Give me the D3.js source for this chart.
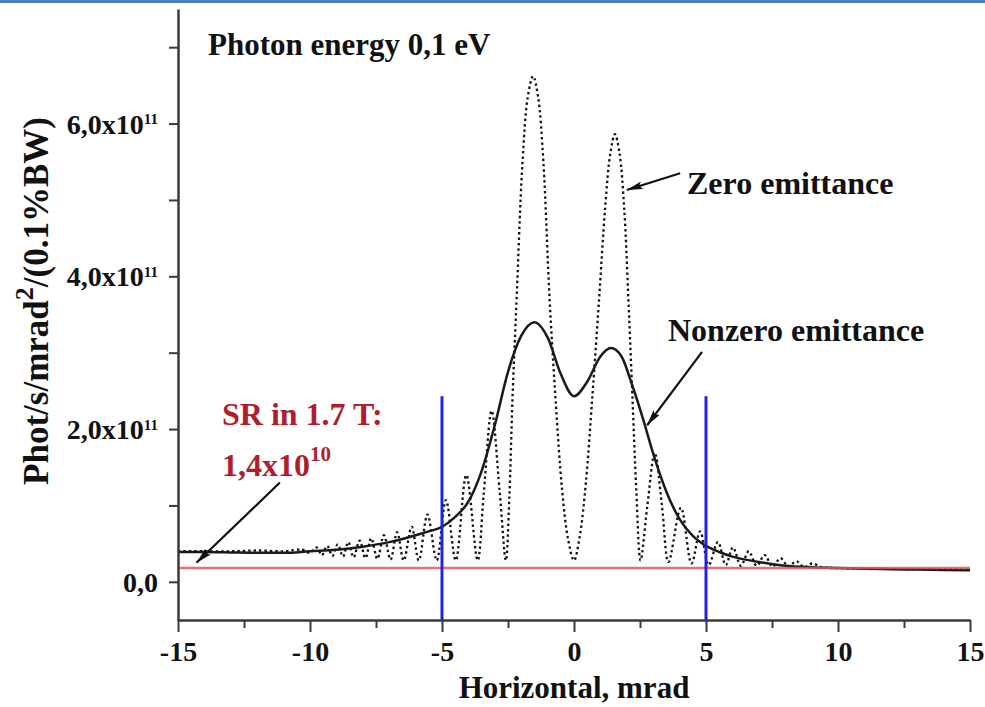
<!DOCTYPE html>
<html><head><meta charset="utf-8">
<script src="https://cdn.jsdelivr.net/npm/d3@7"></script>
<style>
body{margin:0;background:#fff;}
svg{display:block;}
text{font-family:"Liberation Serif","Times New Roman",serif;}
</style>
</head><body>
<svg id="chart" width="985" height="707"></svg>
<script>
// ---------- data (values in units of 1e11 for y, mrad for x) ----------
const xTicks = [-15, -10, -5, 0, 5, 10, 15];
const xMinorTicks = [-12.5, -7.5, -2.5, 2.5, 7.5, 12.5];
const yTicks = [0, 2, 4, 6];
const yMinorTicks = [1, 3, 5, 7];

// Zero emittance (dotted)
const zeroX = [-15,-14,-13,-12,-11,-10.3,-10.0,-9.75,-9.55,-9.35,-9.15,-8.95,-8.75,-8.55,-8.35,-8.12,-7.9,-7.68,-7.45,-7.2,-6.95,-6.7,-6.45,-6.15,-5.88,-5.55,-5.2,-4.85,-4.48,-4.08,-3.65,-3.42,-3.12,-2.82,-2.58,-2.45,-2.33,-2.17,-1.95,-1.75,-1.55,-1.36,-1.16,-0.93,-0.70,-0.45,-0.22,0.0,0.22,0.45,0.70,0.95,1.18,1.38,1.55,1.72,1.90,2.06,2.21,2.36,2.52,2.78,3.06,3.33,3.58,4.05,4.45,4.78,5.1,5.45,5.75,6.02,6.32,6.62,6.92,7.22,7.52,7.82,8.12,8.42,8.72,9.02,9.4,10,12,15];
const zeroY = [0.40,0.40,0.40,0.41,0.40,0.42,0.38,0.45,0.35,0.47,0.34,0.49,0.33,0.52,0.32,0.54,0.31,0.57,0.30,0.61,0.29,0.65,0.28,0.72,0.28,0.88,0.28,1.07,0.28,1.40,0.28,1.15,2.24,1.20,0.28,1.10,2.40,3.74,5.50,6.35,6.62,6.35,5.50,3.74,2.40,1.20,0.55,0.28,0.60,1.30,2.45,3.70,4.90,5.62,5.86,5.62,4.90,3.70,2.45,1.20,0.28,1.00,1.69,1.00,0.26,0.97,0.24,0.66,0.22,0.52,0.22,0.45,0.21,0.40,0.21,0.35,0.20,0.31,0.20,0.27,0.19,0.24,0.19,0.18,0.17,0.16];

// Nonzero emittance (solid)
const nonX = [-15,-14,-13,-12,-11,-10,-9,-8,-7,-6.5,-6,-5.5,-5,-4.5,-4,-3.5,-3,-2.5,-2,-1.5,-1,-0.5,0,0.5,1,1.4,1.8,2.2,2.6,3,3.5,4,4.5,5,5.5,6,7,8,9,10,11,12,13,14,15];
const nonY = [0.39,0.39,0.385,0.38,0.38,0.40,0.42,0.46,0.52,0.56,0.61,0.66,0.72,0.85,1.05,1.45,2.05,2.75,3.22,3.40,3.20,2.72,2.43,2.62,2.95,3.06,2.95,2.58,2.15,1.68,1.18,0.82,0.60,0.47,0.39,0.33,0.26,0.21,0.19,0.18,0.17,0.165,0.16,0.155,0.15];

const srLevel = 0.18;          // SR in 1.7 T level
const windowX = [-5, 5];        // blue aperture lines
const windowTop = 2.43;

// annotation arrows [x1,y1,x2,y2] in data units (tail -> head)
const arrowZero = [4.02, 5.35, 2.0, 5.13];
const arrowNon = [4.85, 3.01, 2.77, 2.05];
const arrowSR = [-11.14, 1.30, -14.3, 0.25];

// ---------- drawing ----------
const svg = d3.select("#chart");
const W = 985, H = 707;
const x = d3.scaleLinear().domain([-15, 15]).range([178, 970]);
const y = d3.scaleLinear().domain([-0.5, 7.5]).range([620, 9]);

// top blue rule
svg.append("rect").attr("x", 0).attr("y", 0).attr("width", W).attr("height", 3).attr("fill", "#4f81bd");

const defs = svg.append("defs");
defs.append("marker").attr("id", "ah").attr("markerUnits", "userSpaceOnUse")
  .attr("markerWidth", 18).attr("markerHeight", 10).attr("refX", 16).attr("refY", 4)
  .attr("orient", "auto")
  .append("path").attr("d", "M0,0 L16,4 L0,8 L3,4 Z").attr("fill", "#111");

// curves
const line = d3.line().x(d => x(d[0])).y(d => y(d[1]));
const zeroData = zeroX.map((v, i) => [v, zeroY[i]]);
const nonData = nonX.map((v, i) => [v, nonY[i]]);

svg.append("path").datum(zeroData)
  .attr("d", line.curve(d3.curveCatmullRom.alpha(0.5)))
  .attr("fill", "none").attr("stroke", "#111").attr("stroke-width", 2.3)
  .attr("stroke-dasharray", "2.4,3");

svg.append("path").datum(nonData)
  .attr("d", line.curve(d3.curveMonotoneX))
  .attr("fill", "none").attr("stroke", "#1a1a1a").attr("stroke-width", 2.5);

// SR level red line
svg.append("line")
  .attr("x1", x(-15)).attr("x2", x(15)).attr("y1", y(srLevel)).attr("y2", y(srLevel))
  .attr("stroke", "#dd5a5a").attr("stroke-opacity", 0.85).attr("stroke-width", 2.5);

// blue aperture lines
windowX.forEach(v => {
  svg.append("line").attr("x1", x(v)).attr("x2", x(v)).attr("y1", y(-0.5)).attr("y2", y(windowTop))
    .attr("stroke", "#2222dd").attr("stroke-width", 3);
});

// axes
const axisColor = "#3a3a3a";
const xAxis = svg.append("g").attr("transform", `translate(0,${y(-0.5)})`)
  .call(d3.axisBottom(x).tickValues(xTicks).tickSizeInner(12).tickSizeOuter(0).tickPadding(9)
    .tickFormat(d => d3.format("d")(d).replace("−", "-")));
xAxis.select(".domain").attr("stroke", axisColor).attr("stroke-width", 2.5);
xAxis.selectAll(".tick line").attr("stroke", axisColor).attr("stroke-width", 2);
xAxis.selectAll(".tick text").attr("font-family", "Liberation Serif").attr("font-weight", "bold")
  .attr("font-size", 28).attr("fill", "#111").attr("dy", "0.71em");
const xMin = svg.append("g").attr("transform", `translate(0,${y(-0.5)})`)
  .call(d3.axisBottom(x).tickValues(xMinorTicks).tickSizeInner(8).tickSizeOuter(0).tickFormat(""));
xMin.select(".domain").remove();
xMin.selectAll(".tick line").attr("stroke", axisColor).attr("stroke-width", 2);

const yAxis = svg.append("g").attr("transform", `translate(${x(-15)},0)`)
  .call(d3.axisLeft(y).tickValues(yTicks).tickSizeInner(9).tickSizeOuter(0).tickFormat(""));
yAxis.select(".domain").attr("stroke", axisColor).attr("stroke-width", 2.5);
yAxis.selectAll(".tick line").attr("stroke", axisColor).attr("stroke-width", 2);
const yMin = svg.append("g").attr("transform", `translate(${x(-15)},0)`)
  .call(d3.axisLeft(y).tickValues(yMinorTicks).tickSizeInner(9).tickSizeOuter(0).tickFormat(""));
yMin.select(".domain").remove();
yMin.selectAll(".tick line").attr("stroke", axisColor).attr("stroke-width", 2);

// y tick labels with superscripts
yAxis.selectAll(".tick").each(function(d) {
  const t = d3.select(this).append("text")
    .attr("x", -20).attr("y", 9.5).attr("text-anchor", "end")
    .attr("font-family", "Liberation Serif").attr("font-weight", "bold").attr("font-size", 28).attr("fill", "#111");
  if (d === 0) {
    t.text("0,0");
  } else {
    t.append("tspan").text(d + ",0x10");
    t.append("tspan").attr("font-size", 15).attr("dy", -9.5).text("11");
  }
});

// axis titles
svg.append("text").attr("x", x(0)).attr("y", 698).attr("text-anchor", "middle")
  .attr("font-weight", "bold").attr("font-size", 31).attr("fill", "#111")
  .text("Horizontal, mrad");

const yt = svg.append("text").attr("transform", "translate(48,301) rotate(-90)")
  .attr("text-anchor", "middle").attr("font-weight", "bold").attr("font-size", 35).attr("fill", "#111");
yt.append("tspan").text("Phot/s/mrad");
yt.append("tspan").attr("font-size", 26).attr("dy", -15).text("2");
yt.append("tspan").attr("font-size", 35).attr("dy", 15).text("/(0.1%BW)");

// annotations
svg.append("text").attr("x", 208).attr("y", 55).attr("font-weight", "bold").attr("font-size", 31)
  .attr("fill", "#111").text("Photon energy 0,1 eV");
svg.append("text").attr("x", 687).attr("y", 194).attr("font-weight", "bold").attr("font-size", 32)
  .attr("fill", "#111").text("Zero emittance");
svg.append("text").attr("x", 668).attr("y", 341).attr("font-weight", "bold").attr("font-size", 32)
  .attr("fill", "#111").text("Nonzero emittance");

const srColor = "#b01e2c";
svg.append("text").attr("x", 222).attr("y", 425).attr("font-weight", "bold").attr("font-size", 32)
  .attr("fill", srColor).text("SR in 1.7 T:");
const sr2 = svg.append("text").attr("x", 222).attr("y", 476).attr("font-weight", "bold").attr("font-size", 32)
  .attr("fill", srColor);
sr2.append("tspan").text("1,4x10");
sr2.append("tspan").attr("font-size", 21).attr("dy", -15).text("10");

[arrowZero, arrowNon, arrowSR].forEach(a => {
  svg.append("line").attr("x1", x(a[0])).attr("y1", y(a[1])).attr("x2", x(a[2])).attr("y2", y(a[3]))
    .attr("stroke", "#111").attr("stroke-width", 2.2).attr("marker-end", "url(#ah)");
});
</script>
</body></html>
